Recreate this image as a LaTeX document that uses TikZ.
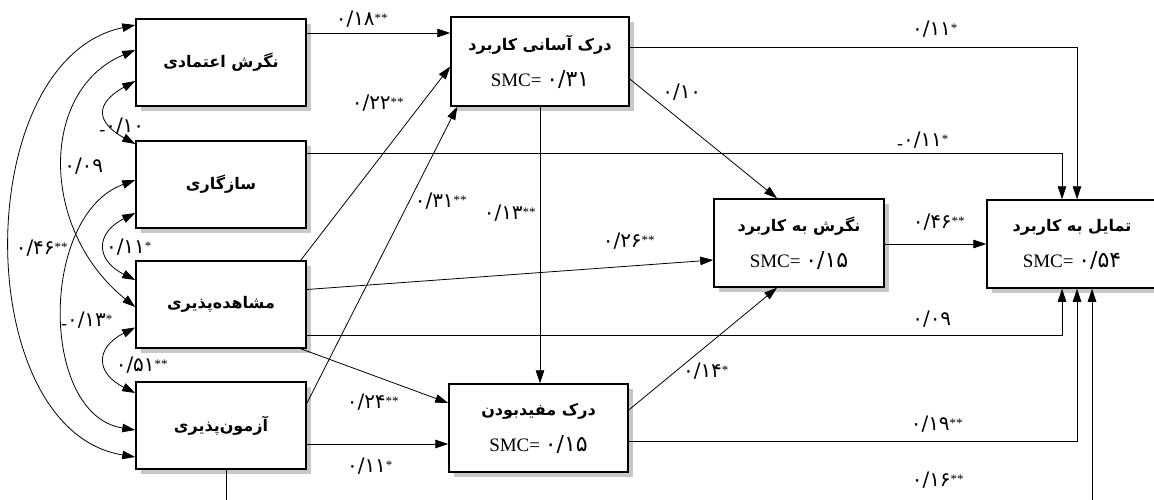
\documentclass[tikz,border=0pt]{standalone}
\usepackage{fontspec}
\setmainfont{Liberation Serif}
\newfontfamily\fa[Script=Arabic]{DejaVu Sans}
\TeXXeTstate=1
\usetikzlibrary{arrows.meta,calc}
\newcommand{\boxtitle}[1]{{\fa\bfseries\fontsize{16}{18}\selectfont\beginR #1\endR}}
\newcommand{\coef}[3]{{\fontsize{18}{18}\selectfont\raisebox{-0.18em}{#1}}{\fa\fontsize{20}{20}\selectfont #2}\textsuperscript{\fontsize{13}{13}\selectfont #3}}
\newcommand{\smcval}[1]{{\fontsize{19}{20}\selectfont SMC= }{\fa\fontsize{22}{20}\selectfont #1}}
\begin{document}
\begin{tikzpicture}[x=1pt,y=-1pt,
  box/.style={draw, line width=1.5pt, fill=white, minimum width=170pt, minimum height=87pt, inner sep=0pt, align=center,
     preaction={draw=none, fill=black!22, transform canvas={xshift=5pt, yshift=-5pt}}},
  conn/.style={line width=0.8pt},
  arr/.style={conn, -{Triangle[length=13pt,width=8.5pt]}},
  darr/.style={conn, {Triangle[length=13pt,width=8.5pt]}-{Triangle[length=13pt,width=8.5pt]}},
  lbl/.style={inner sep=0pt}]
\useasboundingbox (0,0) rectangle (1154,500);
% boxes
\node[box] (A) at (221,62.5) {\boxtitle{نگرش اعتمادی}};
\node[box] (B) at (221,184.5) {\boxtitle{سازگاری}};
\node[box] (C) at (221,304.5) {\boxtitle{مشاهده‌پذیری}};
\node[box] (D) at (221,425.5) {\boxtitle{آزمون‌پذیری}};
\node[box, minimum width=178pt, minimum height=89pt] (E) at (540,61.5) {\boxtitle{درک آسانی کاربرد}\\[15pt]\smcval{۰/۳۱}};
\node[box, minimum width=179pt, minimum height=88pt] (F) at (538.5,428) {\boxtitle{درک مفیدبودن}\\[15pt]\smcval{۰/۱۵}};
\node[box, minimum height=88pt] (N) at (799,243) {\boxtitle{نگرش به کاربرد}\\[15pt]\smcval{۰/۱۵}};
\node[box, minimum height=88pt] (T) at (1072,244) {\boxtitle{تمایل به کاربرد}\\[15pt]\smcval{۰/۵۴}};
% paths
\draw[arr] ($(A.east)+(0,-29.5)$) coordinate (a1) -- (a1 -| E.west);
\draw[arr] ($(E.east)+(0,-14.5)$) -| ($(T.north)+(5,0)$);
\draw[arr] ($(B.east)+(0,-31.5)$) -| ($(T.north)+(-10,0)$);
\draw[arr] ($(E.east)+(0,17.5)$) -- ($(N.north)+(-22,0)$);
\draw[arr] ($(C.north east)+(-6,0)$) -- ($(E.west)+(0,5)$);
\draw[arr] ($(D.east)+(0,-22)$) -- ($(E.south west)+(7,0)$);
\draw[arr] (E.south) -- (E.south |- F.north);
\draw[arr] ($(C.east)+(0,-15)$) -- ($(N.west)+(0,17)$);
\draw[arr] ($(C.east)+(0,30.5)$) -| ($(T.south)+(-10,0)$);
\draw[arr] ($(C.south east)+(-6,0)$) -- ($(F.west)+(0,-25)$);
\draw[arr] ($(D.east)+(0,18.5)$) coordinate (d1) -- (d1 -| F.west);
\draw[arr] ($(F.east)+(0,-18)$) -- ($(N.south)+(-22,0)$);
\draw[arr] ($(N.east)+(0,1)$) coordinate (n1) -- (n1 -| T.west);
\draw[arr] ($(F.east)+(0,13)$) -| ($(T.south)+(5,0)$);
\draw[arr] ($(D.south)+(5,0)$) -- ++(0,45) -| ($(T.south)+(20,0)$);
% correlations
\draw[darr] ($(A.west)+(0,18.5)$) .. controls +(-40,22) and +(-40,-22) .. ($(B.west)+(0,-40.5)$);
\draw[darr] ($(B.west)+(0,28.5)$) .. controls +(-40,20) and +(-40,-20) .. ($(C.west)+(0,-24.5)$);
\draw[darr] ($(C.west)+(0,23)$) .. controls +(-40,20) and +(-40,-20) .. ($(D.west)+(0,-32.5)$);
\draw[darr] ($(A.west)+(0,-12.5)$) .. controls +(-96,40) and +(-96,-77) .. ($(C.west)+(0,2.5)$);
\draw[darr] ($(B.west)+(0,-4.5)$) .. controls +(-96,35) and +(-96,-15) .. ($(D.west)+(0,4.5)$);
\draw[darr] ($(A.west)+(0,-37.5)$) .. controls +(-166,35) and +(-166,-27) .. ($(D.west)+(0,31.5)$);
% labels
\node[lbl] (l1) at (362,20) {\coef{}{۰/۱۸}{**}};
\node[lbl] (l2) at (935,30) {\coef{}{۰/۱۱}{*}};
\node[lbl] (l3) at (923,141) {\coef{-}{۰/۱۱}{*}};
\node[lbl] (l4) at (682,93) {\coef{}{۰/۱۰}{}};
\node[lbl] (l5) at (378,104) {\coef{}{۰/۲۲}{**}};
\node[lbl] (l6) at (441,202) {\coef{}{۰/۳۱}{**}};
\node[lbl] (l7) at (510,214) {\coef{}{۰/۱۳}{**}};
\node[lbl] (l8) at (629,242) {\coef{}{۰/۲۶}{**}};
\node[lbl] (l9) at (932,320) {\coef{}{۰/۰۹}{}};
\node[lbl] (l10) at (373,403) {\coef{}{۰/۲۴}{**}};
\node[lbl] (l11) at (370,467) {\coef{}{۰/۱۱}{*}};
\node[lbl] (l12) at (706,372) {\coef{}{۰/۱۴}{*}};
\node[lbl] (l13) at (939,223) {\coef{}{۰/۴۶}{**}};
\node[lbl] (l14) at (937,425) {\coef{}{۰/۱۹}{**}};
\node[lbl] (l15) at (938,481) {\coef{}{۰/۱۶}{**}};
\node[lbl] (l16) at (122,127) {\coef{-}{۰/۱۰}{}};
\node[lbl] (l17) at (84,167) {\coef{}{۰/۰۹}{}};
\node[lbl] (l18) at (129,248) {\coef{}{۰/۱۱}{*}};
\node[lbl] (l19) at (42,249) {\coef{}{۰/۴۶}{**}};
\node[lbl] (l20) at (87,321) {\coef{-}{۰/۱۳}{*}};
\node[lbl] (l21) at (142,366) {\coef{}{۰/۵۱}{**}};
\end{tikzpicture}
\end{document}
